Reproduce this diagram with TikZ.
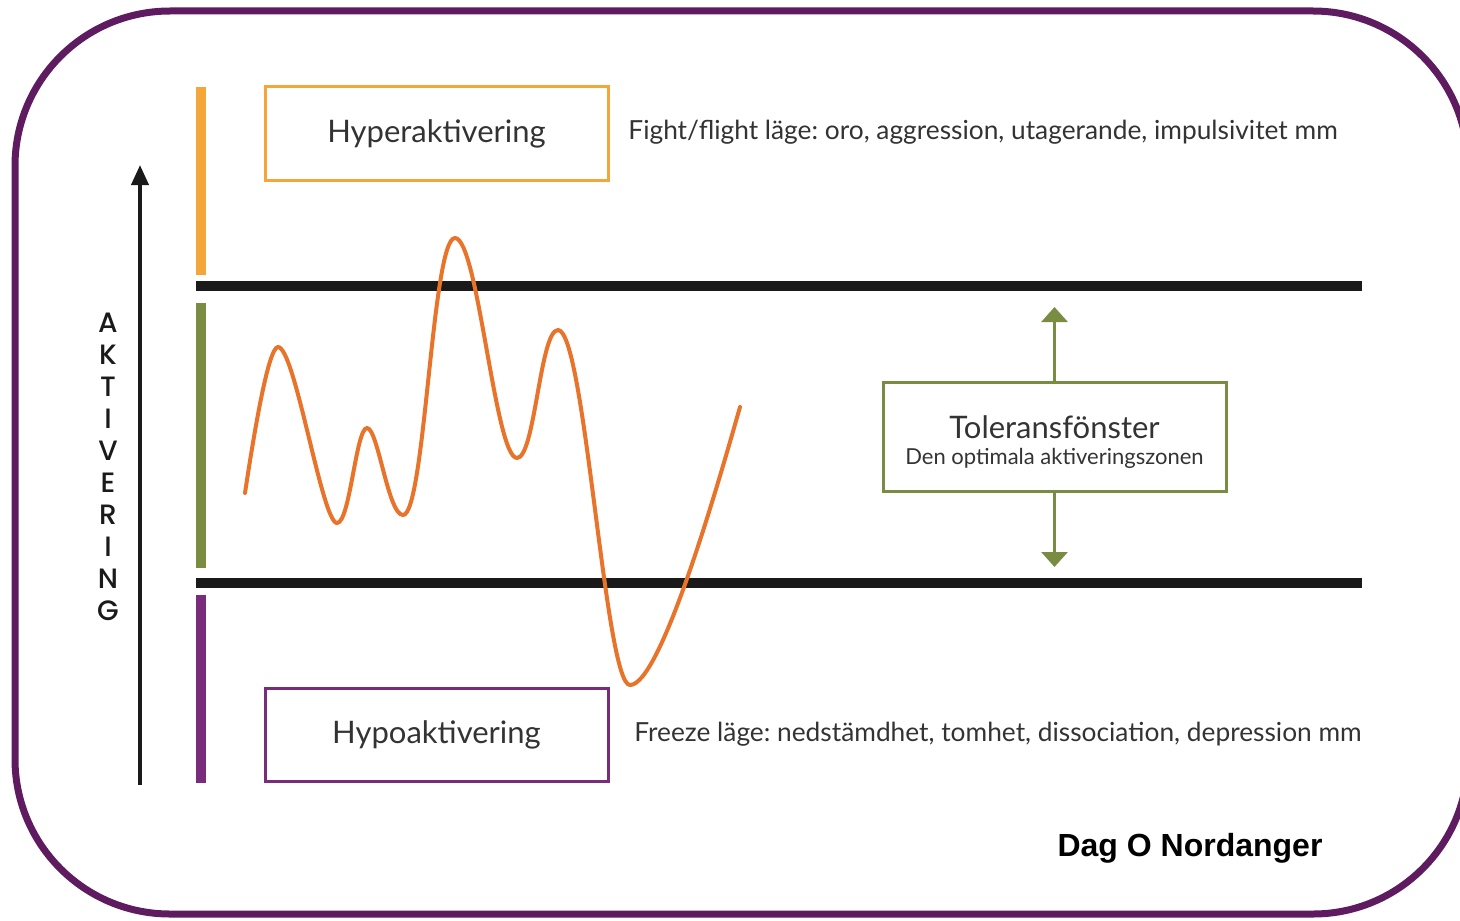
\documentclass[tikz,border=0pt]{standalone}
\usepackage{fontspec}
\setmainfont{Lato}
\newfontfamily\namefont{Liberation Sans}
\newfontfamily\axisfont{Poppins Medium}
\usetikzlibrary{arrows.meta}
\definecolor{framepurple}{RGB}{94,27,96}
\definecolor{hyperorange}{RGB}{245,166,58}
\definecolor{tolgreen}{RGB}{122,139,66}
\definecolor{hypopurple}{RGB}{122,44,124}
\definecolor{curveorange}{RGB}{232,115,42}
\definecolor{barblack}{RGB}{26,26,26}
\definecolor{textgrey}{RGB}{51,51,51}
\frenchspacing
\tikzset{%
    zonebox/.style={draw, line width=1.5pt, minimum width=171.5pt, minimum height=46.5pt, inner sep=0pt, text=textgrey, font=\fontsize{15.5}{18}\selectfont},
    note/.style={anchor=west, inner sep=0pt, text=textgrey, font=\fontsize{13.15}{16}\selectfont}
}

\begin{document}
\begin{tikzpicture}[x=0.5pt,y=-0.5pt]
        \useasboundingbox (0,0) rectangle (1460,920);
        \clip (0,0) rectangle (1460,920);
        \draw[framepurple, line width=3.5pt, rounded corners=77.5pt] (15,11) rectangle (1468,914);

        % activation axis
        \coordinate (ax0) at (140,785);
        \coordinate (ax1) at (140,165);
        \draw[barblack, line width=2pt, -{Triangle[length=10pt,width=8.5pt]}] (ax0) -- (ax1);
        \node[font=\axisfont\fontsize{14}{16}\selectfont, align=center, inner sep=0pt, text=barblack] (akt) at (108,467) {A\\K\\T\\I\\V\\E\\R\\I\\N\\G};

        % zone bars
        \fill[hyperorange] (196,87) rectangle (206,275);
        \fill[tolgreen] (196,303) rectangle (206,568);
        \fill[hypopurple] (196,595) rectangle (206,783);

        \draw[barblack, line width=5pt] (196,286) -- (1362,286);
        \draw[barblack, line width=5pt] (196,583) -- (1362,583);

        % arousal curve
        \draw[curveorange, line width=2pt, line cap=round] (245,493)
            .. controls (253,440) and (268,347) .. (278,347)
            .. controls (295,347) and (322,523) .. (337,523)
            .. controls (350,523) and (356,428) .. (367,428)
            .. controls (378,428) and (388,515) .. (403,515)
            .. controls (425,515) and (432,238) .. (455,238)
            .. controls (478,238) and (495,458) .. (517,458)
            .. controls (535,458) and (540,330) .. (558,330)
            .. controls (585,330) and (605,685) .. (630,685)
            .. controls (660,685) and (715,495) .. (740,407);

        \node[zonebox, draw=hyperorange] (hyper) at (436.5,133.5) {Hyperaktivering};
        \node[zonebox, draw=hypopurple] (hypo) at (436.5,734.5) {Hypoaktivering};
        \node[note] (fight) at (628,132) {Fight/flight läge: oro, aggression, utagerande, impulsivitet mm};
        \node[note] (freeze) at (634,734) {Freeze läge: nedstämdhet, tomhet, dissociation, depression mm};

        \node[zonebox, draw=tolgreen, minimum height=54.5pt, align=center] (tol) at (1054.5,436.5)
            {\rule{0pt}{17pt}Toleransfönster\\[-5pt]{\fontsize{11}{12}\selectfont Den optimala aktiveringszonen}};
        \coordinate (up) at (1054.5,307);
        \coordinate (down) at (1054.5,567);
        \draw[tolgreen, line width=1.5pt, -{Triangle[length=7.5pt,width=13pt]}] (tol.north) -- (up);
        \draw[tolgreen, line width=1.5pt, -{Triangle[length=7.5pt,width=13pt]}] (tol.south) -- (down);

        \node[font=\namefont\bfseries\fontsize{16}{18}\selectfont] (author) at (1190,848) {Dag O Nordanger};
\end{tikzpicture}
\end{document}
